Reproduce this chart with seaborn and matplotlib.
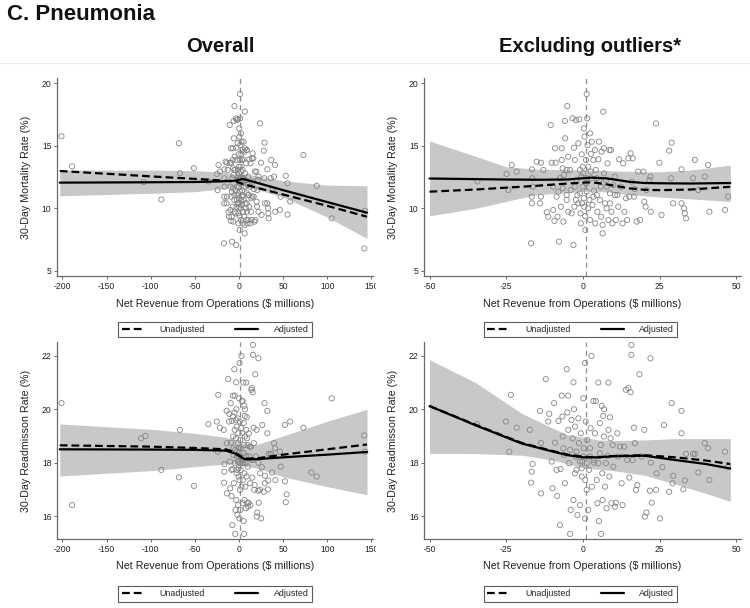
import matplotlib
matplotlib.use("Agg")
import matplotlib.pyplot as plt
import seaborn as sns
from matplotlib.lines import Line2D
from matplotlib.patches import Rectangle

# ---------------- data ----------------
# 30-day mortality vs net revenue (hospital-level points)
mort_x = [
    -34.4, -24.9, -24.3, -23.2, -21.6, -16.7, -16.6, -16.5, -16.9, -16.4,
    -16.7, -13.7, -13.7, -14.0, -11.8, -11.3, -10.5, -10.2, -9.7, -9.3,
    -9.1, -8.9, -8.6, -8.3, -7.8, -7.5, -7.2, -6.6, -6.9, -6.6,
    -6.4, -6.2, -5.9, -5.8, -5.3, -5.1, -4.8, -4.8, -4.2, -4.0,
    -3.4, -3.1, -2.9, -2.8, -2.6, -2.3, -2.3, -2.1, -1.8, -1.5,
    -1.2, -1.0, -0.8, -0.7, -0.4, -0.3, -0.1, 0.1, 0.3, 0.4,
    0.5, 0.7, 0.8, 1.0, 1.2, 1.2, 1.4, 1.5, 1.7, 2.1,
    2.3, 2.3, 2.6, 2.7, 2.9, 3.1, 3.4, 3.6, 3.9, 4.0,
    4.2, 4.5, 4.7, 5.0, 5.2, 5.3, 5.5, 5.8, 5.9, 6.1,
    6.4, 6.4, 6.6, 6.8, 6.9, 7.2, 7.5, 7.7, 8.0, 8.3,
    8.6, 8.8, 9.1, 9.3, 9.6, 9.9, 10.4, 10.7, 11.2, 11.5,
    11.8, 12.3, 12.9, 13.1, 13.5, 14.0, 14.4, 14.8, 15.1, 15.5,
    15.9, 16.2, 16.6, 16.9, 17.5, 18.0, 18.6, 19.7, 20.0, 20.4,
    20.7, 21.6, 22.0, 22.1, 23.8, 24.9, 25.6, 28.1, 28.7, 28.9,
    29.4, 32.1, 32.1, 32.9, 33.2, 33.6, 35.9, 36.5, 37.6, 39.7,
    40.8, 41.2, 46.3, 47.3,
    -1.0, 0.3, 1.0, -0.5, 1.7, -1.5, 3.4, -2.6, -0.1, 2.5,
    -3.7, -5.3, -6.9, 8.8, 10.4, -5.3, 1.2, 4.5, 7.7, -9.7,
    -8.0, -12.9, -15.1,
    -201, -189, -108, -88, -68, -67, -51, 53, 55, 55,
    58, 73, 88, 105, 143, 142]
mort_y = [
    12.15, 12.74, 11.46, 13.46, 12.93, 10.93, 13.11, 12.40, 7.21, 11.73,
    10.40, 10.93, 13.64, 10.40, 9.68, 9.33, 16.65, 13.64, 9.87, 9.00,
    14.79, 13.64, 10.93, 9.33, 7.34, 12.40, 10.13, 13.19, 14.79, 11.60,
    8.94, 12.66, 16.97, 15.59, 10.67, 18.16, 14.12, 9.73, 13.06, 11.46,
    17.18, 7.07, 14.84, 10.13, 13.86, 17.05, 10.67, 12.26, 11.06, 15.19,
    17.10, 13.06, 9.60, 8.80, 14.31, 10.40, 11.73, 12.79, 16.38, 10.13,
    15.72, 9.39, 8.27, 13.86, 19.12, 11.33, 17.18, 15.05, 13.32, 10.67,
    15.98, 9.07, 14.34, 12.40, 15.32, 10.27, 13.86, 11.41, 14.65, 8.80,
    13.06, 11.06, 9.73, 13.91, 15.32, 12.26, 10.67, 11.73, 9.33, 14.52,
    8.00, 8.67, 17.71, 14.79, 12.79, 10.40, 12.26, 10.00, 13.59, 9.07,
    14.65, 11.20, 14.65, 9.73, 8.80, 11.86, 11.06, 9.07, 11.06, 10.13,
    13.91, 11.73, 8.80, 13.59, 9.73, 10.80, 9.07, 13.99, 10.93, 14.39,
    12.13, 13.99, 10.93, 11.54, 8.94, 12.93, 9.07, 12.93, 10.53, 10.13,
    11.46, 12.26, 12.53, 9.73, 16.78, 13.64, 9.47, 14.60, 12.40, 15.24,
    10.40, 13.11, 10.40, 10.00, 9.60, 9.20, 12.40, 13.86, 11.46, 12.53,
    13.46, 9.73, 9.87, 10.93,
    11.2, 10.8, 12.0, 12.53, 10.0, 10.4, 10.93, 11.73, 13.32, 12.93,
    9.6, 11.06, 13.86, 10.4, 12.53, 13.06, 12.4, 12.4, 11.73, 11.73,
    11.33, 13.06, 13.72,
    15.75, 13.35, 12.1, 10.7, 15.2, 12.8, 13.2, 12.6, 12.0, 9.5,
    10.55, 14.25, 11.8, 9.2, 9.8, 6.8]

# 30-day readmission vs net revenue
readm_x = [
    -34.6, -25.1, -23.5, -24.0, -21.6, -17.3, -16.7, -16.4, -16.9, -13.7,
    -13.7, -14.0, -12.1, -11.3, -11.0, -10.2, -9.9, -9.4, -9.1, -8.6,
    -8.4, -8.0, -7.5, -7.3, -6.9, -6.7, -6.6, -6.4, -6.2, -5.9,
    -5.3, -5.1, -4.8, -4.8, -4.5, -4.2, -4.0, -3.7, -3.4, -3.1,
    -3.1, -2.9, -2.6, -2.4, -2.1, -1.8, -1.5, -1.3, -1.0, -0.7,
    -0.4, -0.2, 0.1, 0.3, 0.7, 0.7, 0.9, 1.2, 1.4, 1.7,
    2.0, 2.3, 2.5, 2.8, 2.9, 3.4, 3.6, 3.9, 4.2, 4.5,
    4.7, 5.0, 5.2, 5.5, 5.8, 5.9, 6.1, 6.3, 6.4, 6.6,
    6.8, 6.9, 7.2, 7.5, 7.7, 8.0, 8.3, 8.3, 8.6, 8.8,
    9.0, 9.3, 9.7, 9.9, 10.4, 10.7, 11.2, 11.5, 12.1, 12.6,
    12.9, 13.4, 14.0, 14.4, 14.8, 15.1, 15.5, 15.8, 15.8, 16.2,
    16.6, 16.9, 17.3, 17.7, 18.4, 19.1, 20.0, 20.2, 20.7, 21.8,
    22.0, 22.1, 22.4, 23.8, 24.0, 25.1, 25.9, 26.4, 28.1, 28.9,
    29.4, 29.2, 32.1, 32.1, 32.7, 33.2, 33.6, 35.9, 36.5, 37.6,
    39.7, 40.8, 41.2, 46.3, 47.3,
    -1.0, 0.1, 1.2, -2.1, 2.3, 3.4, -0.4, -2.6, 0.7, 5.0, -4.2, 5.5,
    -201, -189, -111, -106, -88, -68, -67, -51, 52, 53,
    54, 52, 58, 73, 88, 82, 105, 142, 143]
readm_y = [
    19.44, 19.54, 20.54, 18.41, 19.31, 19.23, 17.66, 17.95, 17.25, 18.73,
    16.85, 19.94, 21.13, 19.54, 19.83, 18.04, 17.04, 20.23, 18.75, 17.73,
    16.75, 19.56, 15.66, 17.76, 20.51, 19.73, 18.98, 18.54, 18.29, 17.23,
    21.50, 19.88, 20.51, 19.23, 17.98, 15.33, 16.23, 19.60, 18.91, 21.01,
    16.60, 20.00, 19.35, 18.23, 17.73, 16.04, 19.66, 18.73, 16.41, 19.10,
    17.48, 18.04, 20.41, 18.54, 21.73, 15.91, 19.54, 16.98, 18.85, 16.23,
    17.73, 18.23, 19.29, 22.00, 17.10, 20.31, 18.00, 19.10, 20.31, 17.35,
    16.48, 21.00, 15.81, 19.48, 18.66, 15.33, 20.13, 17.60, 16.60, 19.75,
    18.98, 20.00, 17.10, 17.98, 16.29, 18.25, 21.00, 19.23, 17.48, 19.70,
    18.91, 16.48, 18.66, 17.85, 16.35, 16.50, 19.10, 18.23, 18.60, 17.23,
    16.41, 18.60, 20.73, 18.10, 20.79, 17.44, 20.64, 22.04, 22.41, 18.10,
    19.31, 18.73, 16.98, 17.16, 21.31, 18.23, 19.23, 15.98, 16.13, 16.95,
    21.91, 18.00, 16.50, 16.98, 17.60, 15.91, 17.83, 19.41, 16.91, 20.23,
    17.51, 17.23, 19.94, 19.10, 17.00, 17.33, 18.33, 18.33, 18.33, 17.63,
    18.73, 18.54, 17.35, 18.41, 17.85,
    18.04, 18.23, 17.98, 18.41, 18.54, 18.1, 17.79, 17.6, 17.35, 17.98, 18.48, 18.35,
    20.23, 16.41, 18.91, 19.0, 17.73, 17.45, 19.23, 17.13, 17.3, 16.52,
    16.81, 19.41, 19.54, 19.31, 17.48, 17.63, 20.41, 19.02, 18.41]

# fitted curves (overall / excluding outliers)
fit1_x = [-203, -100, -50, -20, -5, 0, 4, 20, 50, 100, 145]
fit1_adj = [12.05, 12.08, 12.1, 12.15, 12.2, 12.28, 12.35, 12.05, 11.45, 10.5, 9.65]
fit1_unadj = [12.98, 12.55, 12.35, 12.22, 12.15, 12.05, 11.95, 11.65, 11.1, 10.2, 9.33]
fit1_lo = [11.0, 11.2, 11.33, 11.55, 11.75, 11.8, 11.8, 11.5, 10.9, 9.3, 7.6]
fit1_hi = [13.05, 13.05, 13.0, 12.9, 12.75, 12.72, 12.75, 12.6, 12.2, 11.85, 11.8]

fit2_x = [-50, -35, -25, -15, -5, 0, 3, 8, 15, 20, 25, 35, 48]
fit2_adj = [12.38, 12.33, 12.3, 12.28, 12.3, 12.4, 12.45, 12.38, 12.12, 12.02, 12.0, 11.98, 12.02]
fit2_unadj = [11.33, 11.5, 11.65, 11.8, 11.98, 12.05, 12.08, 11.9, 11.6, 11.48, 11.45, 11.5, 11.72]
fit2_lo = [9.4, 10.0, 10.55, 11.1, 11.25, 11.35, 11.35, 11.3, 11.1, 11.0, 10.9, 10.75, 10.55]
fit2_hi = [15.37, 14.15, 13.32, 13.12, 13.08, 13.05, 13.05, 13.0, 12.95, 12.92, 12.92, 13.05, 13.45]

fit3_x = [-203, -100, -50, -15, -5, 0, 5, 10, 20, 50, 100, 145]
fit3_adj = [18.5, 18.49, 18.48, 18.45, 18.35, 18.25, 18.15, 18.12, 18.13, 18.2, 18.3, 18.4]
fit3_unadj = [18.65, 18.6, 18.55, 18.5, 18.4, 18.28, 18.17, 18.15, 18.16, 18.3, 18.5, 18.68]
fit3_lo = [17.5, 17.7, 17.85, 17.95, 17.95, 17.92, 17.88, 17.85, 17.8, 17.47, 17.1, 16.8]
fit3_hi = [19.45, 19.25, 19.1, 18.95, 18.85, 18.75, 18.7, 18.68, 18.68, 19.0, 19.55, 20.0]

fit4_x = [-50, -35, -20, -10, -5, 0, 5, 10, 20, 30, 40, 48]
fit4_adj = [20.12, 19.4, 18.72, 18.42, 18.28, 18.2, 18.2, 18.24, 18.26, 18.1, 17.95, 17.78]
fit4_unadj = [20.12, 19.42, 18.74, 18.44, 18.3, 18.22, 18.2, 18.25, 18.28, 18.2, 18.08, 17.95]
fit4_lo = [18.35, 18.34, 18.28, 18.1, 17.95, 17.8, 17.75, 17.7, 17.53, 17.2, 16.85, 16.55]
fit4_hi = [21.86, 21.0, 19.85, 19.3, 19.05, 18.95, 18.85, 18.83, 18.85, 18.9, 18.9, 18.9]

ref_x = 1.0
xticks_all = [-200, -150, -100, -50, 0, 50, 100, 150]
xticks_excl = [-50, -25, 0, 25, 50]
yticks_mort = [5, 10, 15, 20]
yticks_readm = [16, 18, 20, 22]
legend_labels = ["Unadjusted", "Adjusted"]

# ---------------- style ----------------
sns.set_style("ticks")
plt.rcParams["font.family"] = ["Liberation Sans", "DejaVu Sans"]
plt.rcParams["axes.unicode_minus"] = False

W, H = 750, 608
fig = plt.figure(figsize=(W / 100, H / 100), dpi=100)

SPINE = "#6a6a6a"
TXT = "#222222"
BAND = "#c8c8c8"
PT = "#858585"
DASH = (0, (3.5, 1.8))


def add_ax(l, t, r, b):
    return fig.add_axes([l / W, 1 - b / H, (r - l) / W, (b - t) / H])


def draw_panel(ax, px, py, fx, adj, unadj, lo, hi, xlim, ylim, xticks, yticks, ylabel):
    ax.fill_between(fx, lo, hi, color=BAND, lw=0, zorder=1)
    ax.axvline(ref_x, color="#8f8f8f", lw=0.9, ls=(0, (4, 3)), zorder=1.5)
    sns.scatterplot(x=px, y=py, ax=ax, marker="o", s=14, facecolor="none",
                    edgecolor=PT, linewidth=0.6, zorder=2)
    sns.lineplot(x=fx, y=unadj, ax=ax, color="black", lw=1.6, zorder=3)
    ax.lines[-1].set_linestyle(DASH)
    sns.lineplot(x=fx, y=adj, ax=ax, color="black", lw=1.6, zorder=3)
    ax.set_xlim(*xlim)
    ax.set_ylim(*ylim)
    ax.set_xticks(xticks)
    ax.set_yticks(yticks)
    sns.despine(ax=ax)
    for s in ("left", "bottom"):
        ax.spines[s].set_color(SPINE)
        ax.spines[s].set_linewidth(0.9)
    ax.tick_params(direction="out", length=2.5, width=0.7, color=SPINE,
                   labelsize=6.2, pad=1.5, labelcolor=TXT)
    ax.set_xlabel(r"Net Revenue from Operations (\$ millions)", fontsize=7.7, color=TXT)
    ax.set_ylabel(ylabel, fontsize=7.7, color=TXT)
    ax.yaxis.set_label_coords(-0.083, 0.5)


def add_legend(ax, cx, cy):
    h = [Line2D([], [], color="black", lw=1.6, ls=DASH),
         Line2D([], [], color="black", lw=1.6)]
    leg = ax.legend(h, legend_labels, loc="center", bbox_to_anchor=(cx / W, 1 - cy / H),
                    bbox_transform=fig.transFigure, ncol=2, fontsize=6.4, frameon=True,
                    fancybox=False, edgecolor="#333333", handlelength=2.6,
                    handletextpad=1.7, columnspacing=3.4, borderpad=0.35, borderaxespad=0)
    leg.get_frame().set_linewidth(0.8)


mx_ex = [x for x in mort_x if abs(x) <= 50]
my_ex = [y for x, y in zip(mort_x, mort_y) if abs(x) <= 50]
rx_ex = [x for x in readm_x if abs(x) <= 50]
ry_ex = [y for x, y in zip(readm_x, readm_y) if abs(x) <= 50]

ax1 = add_ax(57, 78, 373, 276)
draw_panel(ax1, mort_x, mort_y, fit1_x, fit1_adj, fit1_unadj, fit1_lo, fit1_hi,
           (-206.1, 151.8), (4.6, 20.4), xticks_all, yticks_mort, "30-Day Mortality Rate (%)")
ax1.xaxis.set_label_coords(0.5, -0.118)
add_legend(ax1, 215, 329.5)

ax2 = add_ax(424, 78, 741, 276)
draw_panel(ax2, mx_ex, my_ex, fit2_x, fit2_adj, fit2_unadj, fit2_lo, fit2_hi,
           (-51.8, 51.5), (4.6, 20.4), xticks_excl, yticks_mort, "30-Day Mortality Rate (%)")
ax2.xaxis.set_label_coords(0.5, -0.118)
add_legend(ax2, 580.5, 329.5)

ax3 = add_ax(57, 342, 373, 539)
draw_panel(ax3, readm_x, readm_y, fit3_x, fit3_adj, fit3_unadj, fit3_lo, fit3_hi,
           (-206.1, 151.8), (15.14, 22.52), xticks_all, yticks_readm, "30-Day Readmisson Rate (%)")
ax3.xaxis.set_label_coords(0.5, -0.112)
add_legend(ax3, 215, 594)

ax4 = add_ax(424, 342, 741, 539)
draw_panel(ax4, rx_ex, ry_ex, fit4_x, fit4_adj, fit4_unadj, fit4_lo, fit4_hi,
           (-51.8, 51.5), (15.14, 22.52), xticks_excl, yticks_readm, "30-Day Readmisson Rate (%)")
ax4.xaxis.set_label_coords(0.5, -0.112)
add_legend(ax4, 580.5, 594)

# titles
fig.text(7 / W, 1 - 14 / H, "C. Pneumonia", fontsize=16, fontweight="bold",
         ha="left", va="center", color="#111111")
fig.text(220 / W, 1 - 46 / H, "Overall", fontsize=14.5, fontweight="bold",
         ha="center", va="center", color="#111111")
fig.text(590 / W, 1 - 46 / H, "Excluding outliers*", fontsize=14.5, fontweight="bold",
         ha="center", va="center", color="#111111")

# faint separator and panel edge (clips the "150" label like the source)
fig.add_artist(Line2D([0, 1], [1 - 63 / H] * 2, transform=fig.transFigure,
                      color="#ededed", lw=0.8))
for y0, y1 in ((277, 300), (540, 562)):
    fig.add_artist(Rectangle((376 / W, 1 - y1 / H), 6 / W, (y1 - y0) / H,
                             transform=fig.transFigure, color="white", zorder=10))

fig.savefig("out.png", dpi=100)
